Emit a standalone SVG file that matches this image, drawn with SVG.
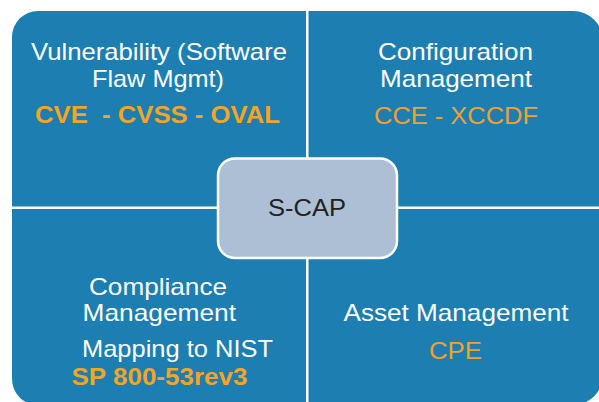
<svg xmlns="http://www.w3.org/2000/svg" width="599" height="402" viewBox="0 0 599 402">
  <style>
    .quad { fill: #1c7eb1; }
    .head { font-family: "Liberation Sans", Arial, sans-serif; font-size: 24px; fill: #ffffff; }
    .std { font-family: "Liberation Sans", Arial, sans-serif; font-size: 24px; fill: #f2a030; }
    .stdb { font-family: "Liberation Sans", Arial, sans-serif; font-size: 23px; font-weight: bold; fill: #f4a426; }
    .core { fill: #adbfd5; stroke: #ffffff; stroke-width: 2.5; }
    .coretext { font-family: "Liberation Sans", Arial, sans-serif; font-size: 24px; fill: #222222; }
  </style>
  <rect width="599" height="402" fill="#ffffff"/>

  <!-- top-left quadrant: vulnerability -->
  <g id="vulnerability">
    <path class="quad" d="M12,37 A26,26 0 0 1 38,11 H306 V206.5 H12 Z"/>
    <text class="head" x="31" y="59.5" textLength="256" lengthAdjust="spacingAndGlyphs">Vulnerability (Software</text>
    <text class="head" x="92" y="87" textLength="132" lengthAdjust="spacingAndGlyphs">Flaw Mgmt)</text>
    <text class="stdb" x="35" y="122.5" xml:space="preserve" style="font-size:24px" textLength="245" lengthAdjust="spacingAndGlyphs">CVE  - CVSS - OVAL</text>
  </g>

  <!-- top-right quadrant: configuration -->
  <g id="configuration">
    <path class="quad" d="M308.5,11 H573 A30,30 0 0 1 603,41 V206.5 H308.5 Z"/>
    <text class="head" x="378" y="60" textLength="155" lengthAdjust="spacingAndGlyphs">Configuration</text>
    <text class="head" x="380" y="87" textLength="152" lengthAdjust="spacingAndGlyphs">Management</text>
    <text class="std" x="374" y="124" textLength="164" lengthAdjust="spacingAndGlyphs">CCE - XCCDF</text>
  </g>

  <!-- bottom-left quadrant: compliance -->
  <g id="compliance">
    <path class="quad" d="M12,209 H306 V405 H38 A26,26 0 0 1 12,379 Z"/>
    <text class="head" x="89" y="294.5" textLength="138" lengthAdjust="spacingAndGlyphs">Compliance</text>
    <text class="head" x="82.5" y="321" textLength="153.5" lengthAdjust="spacingAndGlyphs">Management</text>
    <text class="head" x="82" y="357" textLength="191" lengthAdjust="spacingAndGlyphs">Mapping to NIST</text>
    <text class="stdb" x="71.5" y="385" textLength="176" lengthAdjust="spacingAndGlyphs">SP 800-53rev3</text>
  </g>

  <!-- bottom-right quadrant: asset management -->
  <g id="asset">
    <path class="quad" d="M308.5,209 H603 V375 A30,30 0 0 1 573,405 H308.5 Z"/>
    <text class="head" x="343.5" y="321" textLength="225" lengthAdjust="spacingAndGlyphs">Asset Management</text>
    <text class="std" x="429" y="358.5" textLength="53" lengthAdjust="spacingAndGlyphs">CPE</text>
  </g>

  <!-- centre hub -->
  <g id="scap">
    <rect class="core" x="218" y="158.5" width="179" height="99.5" rx="17" ry="17"/>
    <text class="coretext" x="268" y="216" textLength="78" lengthAdjust="spacingAndGlyphs">S-CAP</text>
  </g>

  <g id="connectors"/>
</svg>
